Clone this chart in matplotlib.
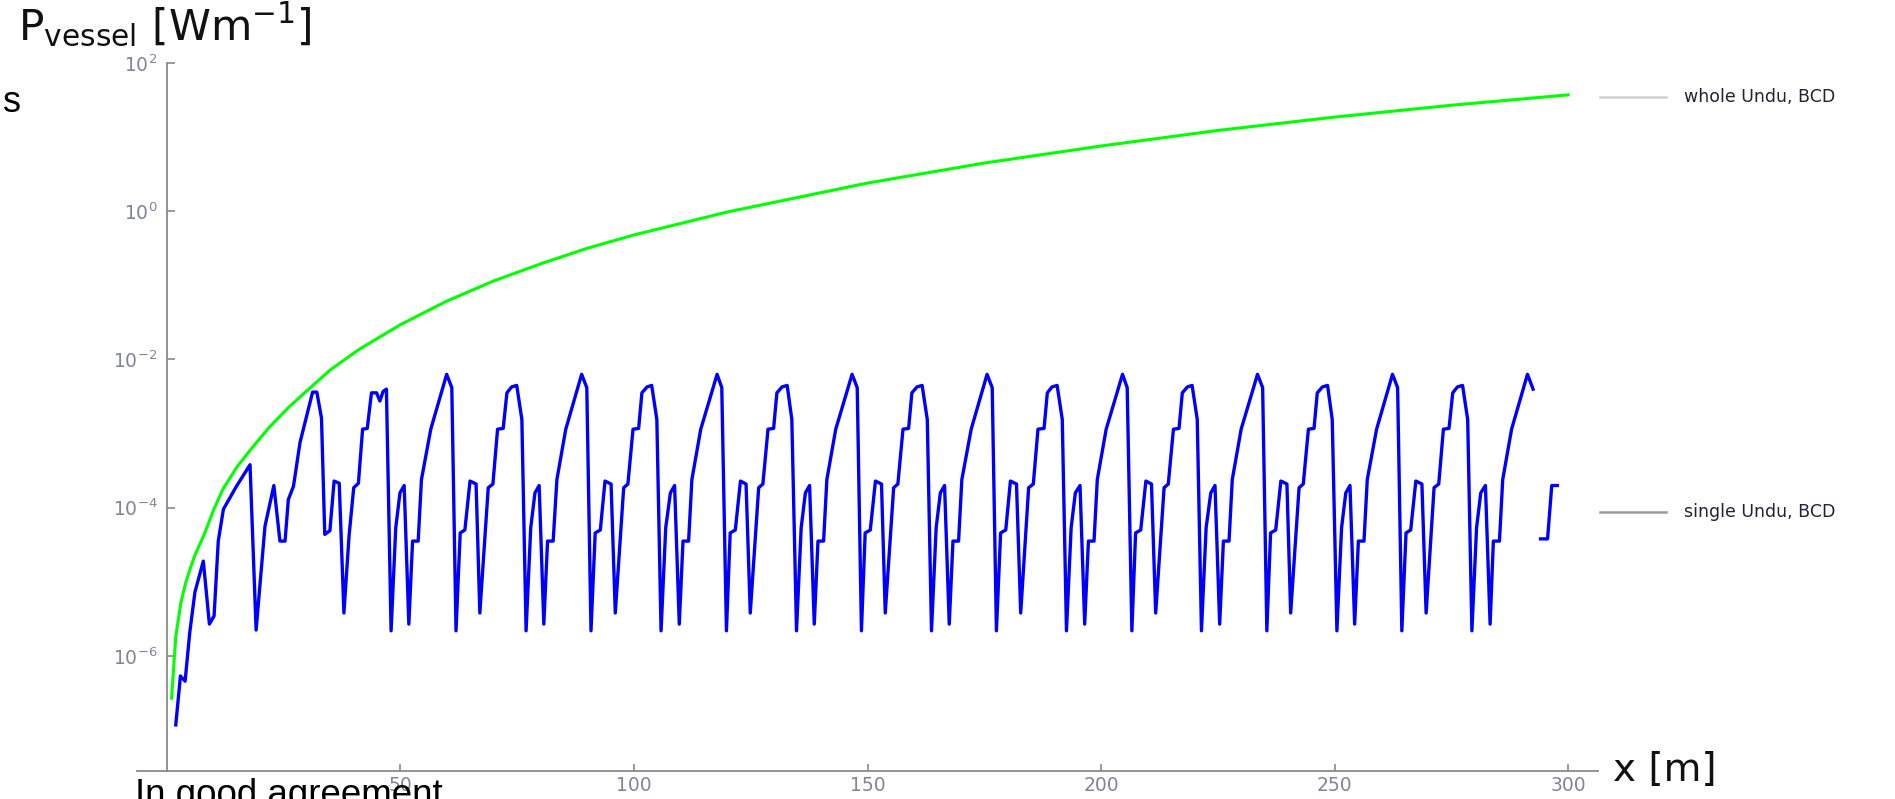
import numpy as np
import matplotlib
matplotlib.use("Agg")
from matplotlib import pyplot as plt
from matplotlib.lines import Line2D
from matplotlib.ticker import NullLocator

plt.rcParams["font.family"] = ["DejaVu Sans"]
plt.rcParams["mathtext.fontset"] = "dejavusans"

# whole undulator, BCD (green) : x [m], log10(P)
whole_x = [1.0, 1.9, 3.0, 4.0, 5.0, 6.0, 8.0, 10.0, 12.0, 15.0, 18.0, 22.0, 26.0,
           30.0, 35.0, 41.0, 50.0, 60.0, 70.0, 80.0, 90.0, 100.0, 120.0, 150.0,
           175.0, 200.0, 225.0, 250.0, 275.0, 300.0]
whole_log = [-6.57, -5.74, -5.28, -5.02, -4.82, -4.64, -4.36, -4.03, -3.75, -3.45,
             -3.21, -2.91, -2.65, -2.42, -2.14, -1.87, -1.53, -1.21, -0.94, -0.71,
             -0.50, -0.32, -0.01, 0.38, 0.65, 0.88, 1.09, 1.27, 1.43, 1.57]

# single undulator, BCD (blue) : x [m], log10(P); nan = gap in the curve
single_x = [
    1.9, 2.9, 3.9, 4.9, 6.0, 7.8, 9.1, 10.1, 11.0, 12.1, 14.9, 17.8, 19.1, 21.0,
    22.9, 24.2, 25.3, 26.0, 27.1, 28.5, 31.2, 32.1, 33.1, 33.8, 34.9, 35.8, 36.9,
    37.9, 39.0, 40.0, 41.0, 41.9, 42.9, 43.8, 44.9, 45.6, 46.3, 47.0,
    48.0, 49.0, 49.9, 50.8, 51.8, 52.6, 53.8, 54.5, 56.5,
    59.9, 61.0, 61.9, 62.8, 63.8, 64.9, 66.2, 67.0, 68.8, 69.8, 70.8, 72.0, 72.8,
    73.8, 74.9, 76.0, 76.9, 77.9, 78.8, 79.7, 80.7, 81.5, 82.7, 83.5, 85.4,
    88.8, 89.9, 90.8, 91.7, 92.8, 93.8, 95.1, 96.0, 97.8, 98.7, 99.8, 101.0, 101.7,
    102.8, 103.8, 104.9, 105.8, 106.8, 107.8, 108.7, 109.7, 110.5, 111.7, 112.4, 114.3,
    117.8, 118.8, 119.8, 120.6, 121.7, 122.8, 124.0, 124.9, 126.7, 127.6, 128.7, 129.9,
    130.6, 131.7, 132.8, 133.8, 134.8, 135.8, 136.7, 137.6, 138.6, 139.4, 140.6, 141.3, 143.2,
    146.7, 147.8, 148.7, 149.5, 150.6, 151.7, 153.0, 153.8, 155.6, 156.5, 157.6, 158.8,
    159.5, 160.6, 161.7, 162.8, 163.7, 164.7, 165.6, 166.5, 167.5, 168.3, 169.5, 170.2, 172.2,
    175.6, 176.7, 177.6, 178.5, 179.6, 180.6, 181.9, 182.8, 184.5, 185.5, 186.5, 187.8,
    188.5, 189.5, 190.6, 191.7, 192.6, 193.6, 194.5, 195.5, 196.5, 197.3, 198.5, 199.2, 201.1,
    204.6, 205.6, 206.6, 207.4, 208.5, 209.6, 210.8, 211.7, 213.5, 214.4, 215.5, 216.7,
    217.4, 218.5, 219.5, 220.6, 221.5, 222.5, 223.5, 224.4, 225.4, 226.2, 227.4, 228.1, 230.0,
    233.5, 234.6, 235.5, 236.3, 237.4, 238.5, 239.8, 240.6, 242.4, 243.3, 244.4, 245.6,
    246.3, 247.4, 248.5, 249.5, 250.5, 251.5, 252.4, 253.3, 254.3, 255.1, 256.3, 257.0, 259.0,
    262.4, 263.5, 264.4, 265.3, 266.3, 267.4, 268.7, 269.6, 271.3, 272.3, 273.3, 274.5,
    275.3, 276.3, 277.4, 278.5, 279.4, 280.4, 281.3, 282.3, 283.3, 284.0, 285.3, 286.0, 287.9,
    291.3, 292.5, np.nan, 294.1, 295.6, 296.5, 297.7,
]
single_log = [
    -6.93, -6.27, -6.34, -5.68, -5.14, -4.72, -5.57, -5.46, -4.45, -4.02, -3.71, -3.42, -5.65, -4.25,
    -3.70, -4.45, -4.45, -3.89, -3.71, -3.12, -2.44, -2.44, -2.79, -4.36, -4.31, -3.64, -3.67,
    -5.42, -4.38, -3.73, -3.67, -2.94, -2.93, -2.45, -2.45, -2.56, -2.43, -2.40,
    -5.66, -4.27, -3.80, -3.70, -5.57, -4.45, -4.45, -3.62, -2.94,
    -2.20, -2.38, -5.66, -4.34, -4.30, -3.64, -3.68, -5.42, -3.73, -3.68, -2.94, -2.93, -2.45,
    -2.37, -2.35, -2.81, -5.66, -4.27, -3.80, -3.70, -5.57, -4.45, -4.45, -3.62, -2.94,
    -2.20, -2.38, -5.66, -4.34, -4.30, -3.64, -3.68, -5.42, -3.73, -3.68, -2.94, -2.93, -2.45,
    -2.37, -2.35, -2.81, -5.66, -4.27, -3.80, -3.70, -5.57, -4.45, -4.45, -3.62, -2.94,
    -2.20, -2.38, -5.66, -4.34, -4.30, -3.64, -3.68, -5.42, -3.73, -3.68, -2.94, -2.93,
    -2.45, -2.37, -2.35, -2.81, -5.66, -4.27, -3.80, -3.70, -5.57, -4.45, -4.45, -3.62, -2.94,
    -2.20, -2.38, -5.66, -4.34, -4.30, -3.64, -3.68, -5.42, -3.73, -3.68, -2.94, -2.93,
    -2.45, -2.37, -2.35, -2.81, -5.66, -4.27, -3.80, -3.70, -5.57, -4.45, -4.45, -3.62, -2.94,
    -2.20, -2.38, -5.66, -4.34, -4.30, -3.64, -3.68, -5.42, -3.73, -3.68, -2.94, -2.93,
    -2.45, -2.37, -2.35, -2.81, -5.66, -4.27, -3.80, -3.70, -5.57, -4.45, -4.45, -3.62, -2.94,
    -2.20, -2.38, -5.66, -4.34, -4.30, -3.64, -3.68, -5.42, -3.73, -3.68, -2.94, -2.93,
    -2.45, -2.37, -2.35, -2.81, -5.66, -4.27, -3.80, -3.70, -5.57, -4.45, -4.45, -3.62, -2.94,
    -2.20, -2.38, -5.66, -4.34, -4.30, -3.64, -3.68, -5.42, -3.73, -3.68, -2.94, -2.93,
    -2.45, -2.37, -2.35, -2.81, -5.66, -4.27, -3.80, -3.70, -5.57, -4.45, -4.45, -3.62, -2.94,
    -2.20, -2.38, -5.66, -4.34, -4.30, -3.64, -3.68, -5.42, -3.73, -3.68, -2.94, -2.93,
    -2.45, -2.37, -2.35, -2.81, -5.66, -4.27, -3.80, -3.70, -5.57, -4.45, -4.45, -3.62, -2.94,
    -2.20, -2.40, np.nan, -4.42, -4.42, -3.70, -3.70,
]

x_ticks = [50, 100, 150, 200, 250, 300]
y_ticks = [1e-6, 1e-4, 1e-2, 1e0, 1e2]
y_tick_labels = [r"$10^{-6}$", r"$10^{-4}$", r"$10^{-2}$", r"$10^{0}$", r"$10^{2}$"]
legend_labels = ["whole Undu, BCD", "single Undu, BCD"]

W, H = 1895, 799
fig = plt.figure(figsize=(W / 100, H / 100), dpi=100)
ax = fig.add_axes([137 / W, 1 - 770.5 / H, (1598 - 137) / W, (770.5 - 63) / H])

ax.plot(whole_x, 10.0 ** np.array(whole_log), color="#00ff00", lw=2.2)
ax.plot(single_x, 10.0 ** np.array(single_log), color="#0000ff", lw=2.4)

ax.set_yscale("log")
ax.set_xlim(-6.4, 306.4)
ax.set_ylim(10 ** -7.545, 100)
ax.set_xticks(x_ticks)
ax.set_yticks(y_ticks)
ax.set_yticklabels(y_tick_labels)
ax.yaxis.set_minor_locator(NullLocator())
ax.xaxis.set_minor_locator(NullLocator())

axis_gray = "#8a8a8a"
for s in ["top", "right"]:
    ax.spines[s].set_visible(False)
ax.spines["left"].set_position(("data", 0))
for s in ["left", "bottom"]:
    ax.spines[s].set_color(axis_gray)
    ax.spines[s].set_linewidth(1.3)
ax.tick_params(axis="both", direction="in", color=axis_gray, width=1.2,
               labelcolor="#83839a", labelsize=13.5)
ax.tick_params(axis="y", length=6, pad=7)
ax.tick_params(axis="x", length=5, pad=4)

# axis titles
fig.text(18 / W, 1 - 40 / H, r"P$_{\mathrm{vessel}}$ [Wm$^{-1}$]", fontsize=30.5,
         va="baseline", ha="left", color="#111111")
fig.text(1613 / W, 1 - 770 / H, "x [m]", fontsize=28, va="center", ha="left",
         color="#111111")

# legend entries at the right
for label, ypx, col in zip(legend_labels, [97, 512], ["#d0d0d0", "#9a9a9a"]):
    fig.add_artist(Line2D([1600 / W, 1666 / W], [1 - ypx / H] * 2,
                          transform=fig.transFigure, color=col, lw=1.8))
    fig.text(1684 / W, 1 - ypx / H, label, fontsize=12.5, va="center", ha="left",
             color="#222233")

# bits of the slide around the chart
fig.text(3 / W, 1 - 112 / H, "s", fontsize=26, family="Liberation Sans",
         va="baseline", color="black")
fig.text(135 / W, 1 - 805 / H, "In good agreement", fontsize=26.5,
         family="Liberation Sans", va="baseline", color="black")

fig.savefig("out.png", dpi=100, facecolor="white")
